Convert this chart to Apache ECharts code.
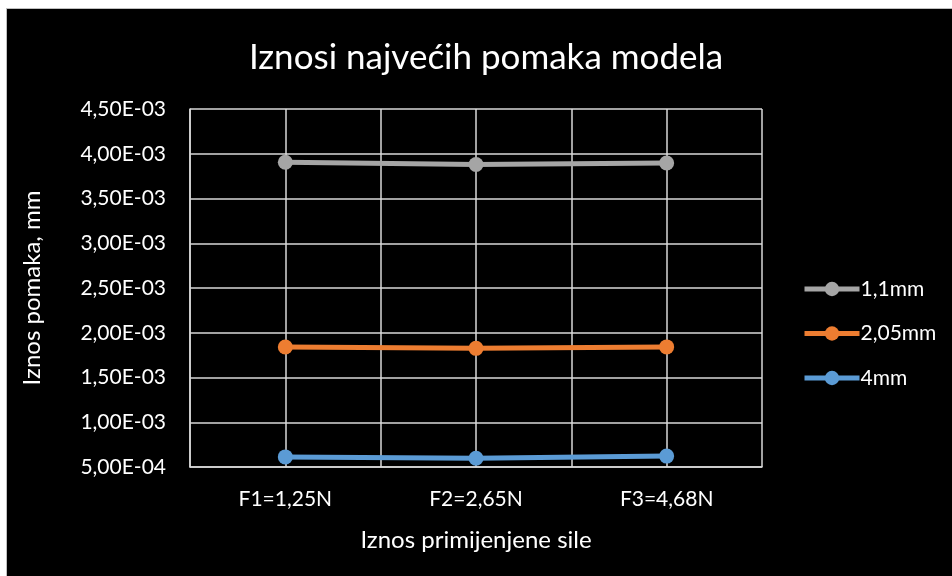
<!DOCTYPE html>
<html>
<head>
<meta charset="utf-8">
<script src="https://cdn.jsdelivr.net/npm/echarts@6/dist/echarts.min.js"></script>
<style>
  html, body { margin: 0; padding: 0; background: #ffffff; }
  #frame { position: absolute; left: 6px; top: 8px; width: 946px; height: 568px; background: #000000; border-left: 1px solid #bfbfbf; border-top: 1px solid #bfbfbf; box-sizing: border-box; }
  #chart { position: absolute; left: 0; top: 0; width: 952px; height: 576px; }
</style>
</head>
<body>
<div id="frame"></div>
<div id="chart"></div>
<script>
const categories = ['F1=1,25N', 'F2=2,65N', 'F3=4,68N'];
const seriesNames = ['1,1mm', '2,05mm', '4mm'];
const values_1_1mm = [3.905e-3, 3.880e-3, 3.897e-3];
const values_2_05mm = [1.840e-3, 1.826e-3, 1.842e-3];
const values_4mm = [0.613e-3, 0.598e-3, 0.622e-3];
const yTicks = { min: 5e-4, max: 4.5e-3, interval: 5e-4 };
const colors = ['#a5a5a5', '#ed7d31', '#5b9bd5'];

const FONT = 'Lato, "Open Sans", sans-serif';

function fmt(v) {
  // scientific format with decimal comma: 4,50E-03
  const exp = Math.floor(Math.log10(Math.abs(v)) + 1e-9);
  const mant = v / Math.pow(10, exp);
  const e = Math.abs(exp);
  return mant.toFixed(2).replace('.', ',') + 'E' + (exp < 0 ? '-' : '+') + (e < 10 ? '0' + e : e);
}

const chart = echarts.init(document.getElementById('chart'), null, { renderer: 'canvas' });
const seriesData = [values_1_1mm, values_2_05mm, values_4mm];

chart.setOption({
  backgroundColor: 'transparent',
  textStyle: { fontFamily: FONT },
  title: {
    text: 'Iznosi najvećih pomaka modela',
    left: 481, top: 35, textAlign: 'center',
    textStyle: { color: '#ffffff', fontSize: 35, fontWeight: 'normal', fontFamily: FONT }
  },
  legend: {
    orient: 'vertical',
    left: 797, top: 272,
    itemWidth: 55, itemHeight: 18, itemGap: 20.5,
    data: seriesNames,
    lineStyle: { width: 5 },
    textStyle: { color: '#ffffff', fontSize: 21, lineHeight: 24, fontFamily: FONT, padding: [0, 0, 0, -4] }
  },
  grid: { left: 190, top: 109, width: 572, height: 358 },
  xAxis: [
    {
      type: 'category',
      data: categories,
      boundaryGap: true,
      axisLine: { lineStyle: { color: '#d9d9d9', width: 1.5 } },
      axisTick: { show: false },
      axisLabel: { color: '#ffffff', fontSize: 21, margin: 22, fontFamily: FONT },
      splitLine: { show: false },
      name: 'Iznos primijenjene sile',
      nameLocation: 'middle',
      nameGap: 61,
      nameTextStyle: { color: '#ffffff', fontSize: 24, fontFamily: FONT }
    },
    {
      type: 'category',
      data: ['', '', '', '', '', ''],
      boundaryGap: true,
      position: 'bottom',
      axisLine: { show: false },
      axisTick: { show: false },
      axisLabel: { show: false },
      splitLine: { show: true, lineStyle: { color: '#d9d9d9', width: 1.5 } }
    }
  ],
  yAxis: {
    type: 'value',
    min: yTicks.min, max: yTicks.max, interval: yTicks.interval,
    axisLine: { show: true, lineStyle: { color: '#d9d9d9', width: 1.5 } },
    axisTick: { show: false },
    axisLabel: { color: '#ffffff', fontSize: 21, margin: 24, formatter: fmt, fontFamily: FONT },
    splitLine: { show: true, lineStyle: { color: '#d9d9d9', width: 1.5 } },
    name: 'Iznos pomaka, mm',
    nameLocation: 'middle',
    nameGap: 146,
    nameTextStyle: { color: '#ffffff', fontSize: 24, fontFamily: FONT }
  },
  series: seriesNames.map((n, i) => ({
    name: n,
    type: 'line',
    data: seriesData[i],
    xAxisIndex: 0,
    symbol: 'circle',
    symbolSize: 15,
    color: colors[i],
    lineStyle: { width: 5, color: colors[i] },
    itemStyle: { color: colors[i] },
    animation: false
  })),
  animation: false
});
</script>
</body>
</html>
